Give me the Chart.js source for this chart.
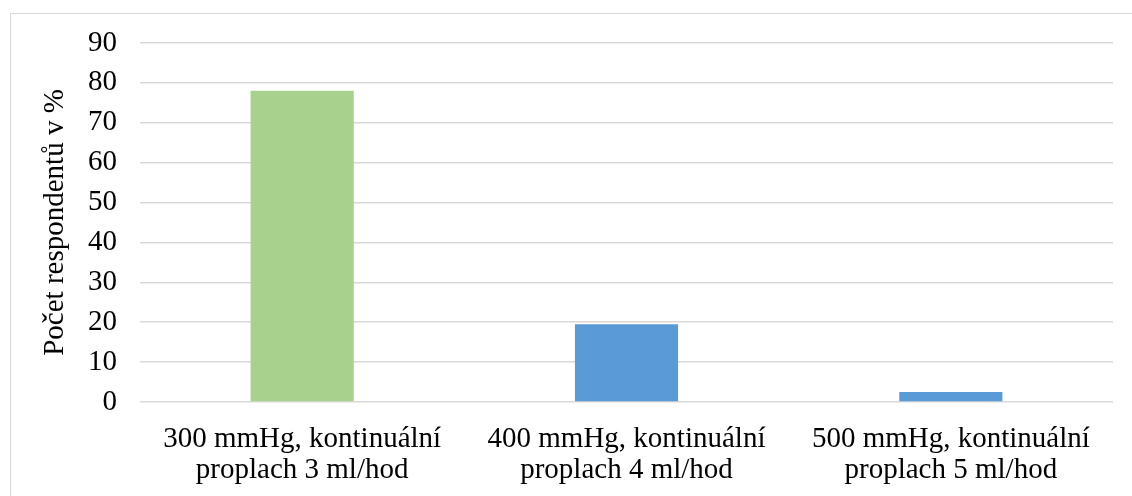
<!DOCTYPE html>
<html>
<head>
<meta charset="utf-8">
<script src="https://cdn.jsdelivr.net/npm/chart.js@4/dist/chart.umd.min.js"></script>
<style>
  html, body { margin: 0; padding: 0; background: #fff; overflow: hidden; }
  .frame { position: absolute; left: 10px; top: 13px; width: 1130px; height: 490px; border: 1px solid #d9d9d9; box-sizing: border-box; }
  .frame canvas { position: absolute; left: 0; top: 0; }
</style>
</head>
<body>
<div class="frame"><canvas id="chart" width="1128" height="488"></canvas></div>
<script>
// values
const categories = [
  ["300 mmHg, kontinuální", "proplach 3 ml/hod"],
  ["400 mmHg, kontinuální", "proplach 4 ml/hod"],
  ["500 mmHg, kontinuální", "proplach 5 ml/hod"]
];
const percentValues = [78, 19.5, 2.5];
const barColors = ["#a9d18e", "#5b9bd5", "#5b9bd5"];
const yTicks = [0, 10, 20, 30, 40, 50, 60, 70, 80, 90];

const serif = "'Liberation Serif', 'Times New Roman', serif";

const ctx = document.getElementById("chart");
new Chart(ctx, {
  type: "bar",
  data: {
    labels: categories,
    datasets: [{
      data: percentValues,
      backgroundColor: barColors,
      borderWidth: 0,
      categoryPercentage: 1,
      barPercentage: 0.318
    }]
  },
  options: {
    responsive: false,
    animation: false,
    layout: { padding: { top: 29, right: 26, left: 0, bottom: 0 } },
    plugins: { legend: { display: false }, tooltip: { enabled: false } },
    scales: {
      x: {
        afterFit: axis => { axis.height = 100; axis.paddingLeft = 0; axis.paddingRight = 0; },
        grid: { display: false, drawTicks: false },
        border: { display: false },
        ticks: { color: "#000", font: { family: serif, size: 29, lineHeight: 1.1 }, padding: 21, maxRotation: 0, autoSkip: false }
      },
      y: {
        min: 0,
        max: 90,
        afterBuildTicks: axis => { axis.ticks = yTicks.map(v => ({ value: v })); },
        afterFit: axis => { axis.width = 129; axis.paddingTop = 0; axis.paddingBottom = 0; },
        grid: { color: "#d9d9d9", lineWidth: 1.5, drawTicks: false },
        border: { display: false },
        ticks: { color: "#000", font: { family: serif, size: 29 }, padding: 23 },
        title: { display: true, text: "Počet respondentů v %", color: "#000", font: { family: serif, size: 29 }, padding: { top: 27, bottom: 0 } }
      }
    }
  }
});
</script>
</body>
</html>
